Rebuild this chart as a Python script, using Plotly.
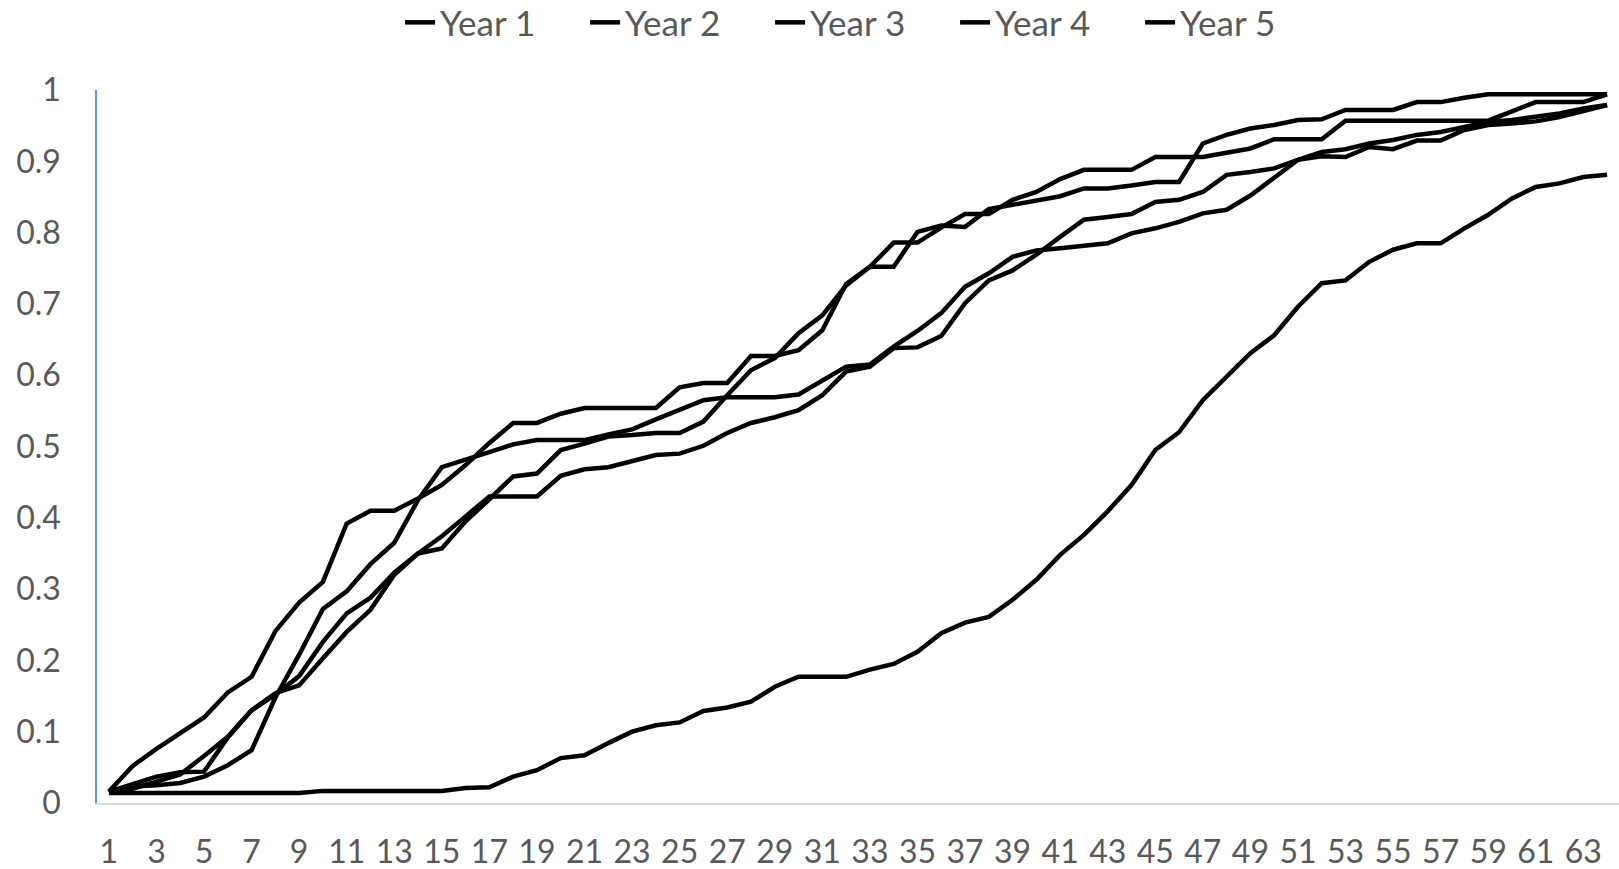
import plotly.graph_objects as go

categories = list(range(1, 65))
x_tick_labels = [str(c) for c in categories if c % 2 == 1]
y_tick_values = [0, 0.1, 0.2, 0.3, 0.4, 0.5, 0.6, 0.7, 0.8, 0.9, 1]
y_tick_labels = ["0", "0.1", "0.2", "0.3", "0.4", "0.5", "0.6", "0.7", "0.8", "0.9", "1"]
series_names = ["Year 1", "Year 2", "Year 3", "Year 4", "Year 5"]

year1 = [0.016, 0.052, 0.076, 0.098, 0.12, 0.155, 0.177, 0.241, 0.281, 0.31,
         0.392, 0.41, 0.41, 0.427, 0.446, 0.474, 0.505, 0.533, 0.533, 0.546,
         0.554, 0.554, 0.554, 0.554, 0.583, 0.589, 0.589, 0.627, 0.627, 0.635,
         0.663, 0.728, 0.752, 0.786, 0.786, 0.807, 0.826, 0.826, 0.846, 0.857,
         0.875, 0.888, 0.888, 0.888, 0.906, 0.906, 0.906, 0.912, 0.918, 0.931,
         0.931, 0.931, 0.957, 0.957, 0.957, 0.957, 0.957, 0.957, 0.957, 0.970,
         0.983, 0.983, 0.983, 0.994]

year2 = [0.016, 0.02, 0.03, 0.04, 0.066, 0.093, 0.13, 0.152, 0.178, 0.226,
         0.266, 0.288, 0.323, 0.35, 0.357, 0.395, 0.426, 0.458, 0.462, 0.495,
         0.504, 0.514, 0.516, 0.519, 0.519, 0.535, 0.572, 0.607, 0.624, 0.659,
         0.684, 0.726, 0.752, 0.752, 0.801, 0.81, 0.808, 0.833, 0.839, 0.845,
         0.851, 0.862, 0.862, 0.866, 0.871, 0.871, 0.925, 0.937, 0.946, 0.951,
         0.958, 0.959, 0.972, 0.972, 0.972, 0.983, 0.983, 0.989, 0.994, 0.994,
         0.994, 0.994, 0.994, 0.994]

year3 = [0.016, 0.023, 0.025, 0.028, 0.037, 0.053, 0.074, 0.148, 0.208, 0.272,
         0.297, 0.335, 0.365, 0.425, 0.471, 0.481, 0.492, 0.503, 0.509, 0.509,
         0.509, 0.517, 0.524, 0.538, 0.551, 0.565, 0.569, 0.569, 0.569, 0.573,
         0.593, 0.612, 0.615, 0.64, 0.662, 0.687, 0.724, 0.743, 0.766, 0.775,
         0.778, 0.782, 0.785, 0.799, 0.806, 0.815, 0.827, 0.832, 0.852, 0.877,
         0.902, 0.907, 0.906, 0.92, 0.917, 0.929, 0.929, 0.944, 0.951, 0.953,
         0.956, 0.962, 0.971, 0.979]

year4 = [0.016, 0.027, 0.037, 0.043, 0.044, 0.092, 0.13, 0.154, 0.165, 0.203,
         0.24, 0.271, 0.32, 0.35, 0.374, 0.402, 0.43, 0.43, 0.43, 0.459,
         0.468, 0.471, 0.479, 0.488, 0.49, 0.501, 0.519, 0.533, 0.541, 0.551,
         0.572, 0.605, 0.612, 0.638, 0.639, 0.655, 0.701, 0.733, 0.747, 0.769,
         0.794, 0.818, 0.822, 0.826, 0.843, 0.846, 0.857, 0.881, 0.885, 0.89,
         0.902, 0.913, 0.917, 0.925, 0.93, 0.937, 0.941, 0.948, 0.955, 0.958,
         0.963, 0.967, 0.974, 0.979]

year5 = [0.014, 0.014, 0.014, 0.014, 0.014, 0.014, 0.014, 0.014, 0.014, 0.017,
         0.017, 0.017, 0.017, 0.017, 0.017, 0.021, 0.022, 0.037, 0.046, 0.063,
         0.067, 0.084, 0.1, 0.109, 0.113, 0.129, 0.134, 0.142, 0.163, 0.177,
         0.177, 0.177, 0.187, 0.195, 0.212, 0.238, 0.253, 0.261, 0.285, 0.313,
         0.348, 0.376, 0.409, 0.446, 0.495, 0.52, 0.565, 0.598, 0.631, 0.656,
         0.696, 0.729, 0.733, 0.759, 0.776, 0.785, 0.785, 0.806, 0.825, 0.848,
         0.864, 0.869, 0.878, 0.881]

series_values = [year1, year2, year3, year4, year5]

FONT = "Lato, 'Noto Sans', sans-serif"
TEXT_COLOR = "#595959"

fig = go.Figure()
for name, vals in zip(series_names, series_values):
    fig.add_trace(go.Scatter(
        x=categories, y=vals, name=name, mode="lines",
        line=dict(color="#000000", width=4.5),
    ))

fig.update_layout(
    width=1619, height=869,
    paper_bgcolor="#ffffff", plot_bgcolor="#ffffff",
    margin=dict(l=97, r=0, t=90, b=66, autoexpand=False),
    font=dict(family=FONT, size=32, color=TEXT_COLOR),
    showlegend=True,
    legend=dict(
        orientation="h", x=0.503, xanchor="center", y=0.974, yanchor="middle",
        yref="container", font=dict(family=FONT, size=35, color=TEXT_COLOR),
        entrywidth=140, itemwidth=30, tracegroupgap=0,
        bgcolor="rgba(0,0,0,0)",
    ),
    xaxis=dict(
        range=[0.5, 64.5], tickmode="array",
        tickvals=[c for c in categories if c % 2 == 1],
        ticktext=x_tick_labels, showgrid=False, zeroline=False,
        showline=True, linecolor="#D9D9D9", linewidth=2,
        ticks="", ticklabelstandoff=20, automargin=False,
        tickfont=dict(family=FONT, size=32, color=TEXT_COLOR),
    ),
    yaxis=dict(
        range=[0, 1], tickmode="array", tickvals=y_tick_values,
        ticktext=y_tick_labels, showgrid=False, zeroline=False,
        showline=True, linecolor="#5B9BD5", linewidth=1.5,
        ticks="", ticklabelstandoff=28, automargin=False,
        tickfont=dict(family=FONT, size=32, color=TEXT_COLOR),
    ),
)

fig.write_html(
    "out.html",
    config={"displayModeBar": False},
    post_script="document.body.style.margin='0';document.body.style.overflow='hidden';",
)
